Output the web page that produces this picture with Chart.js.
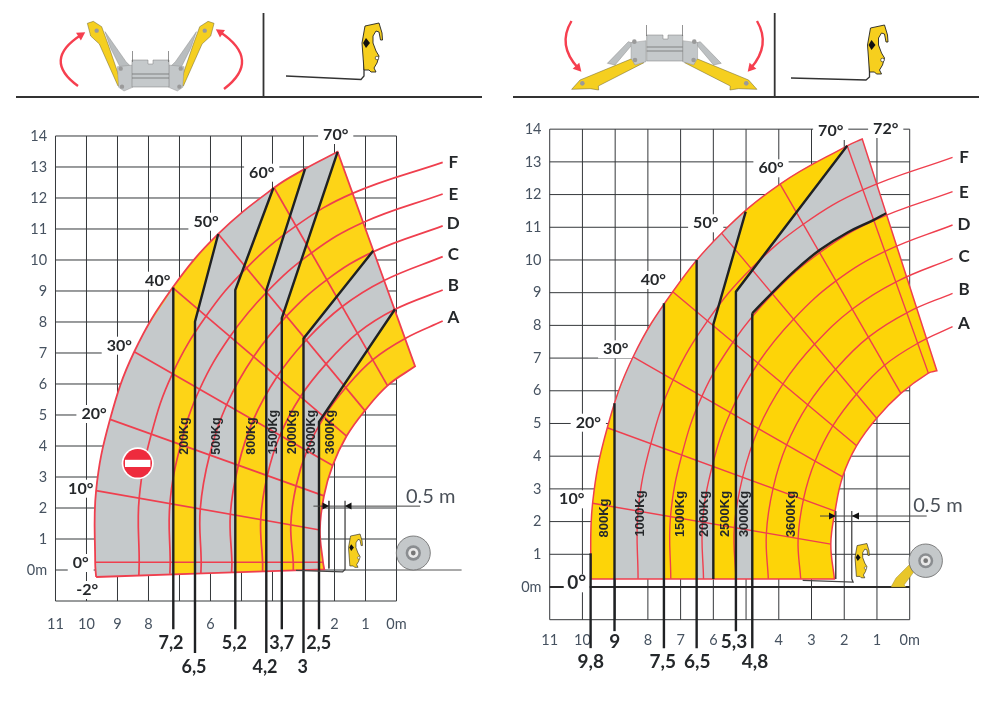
<!DOCTYPE html>
<html><head><meta charset="utf-8">
<script src="https://cdn.jsdelivr.net/npm/chart.js@4"></script>
<style>
html,body{margin:0;padding:0;background:#fff;width:997px;height:702px;overflow:hidden}
canvas{position:absolute;top:0}
#cL{left:0}#cR{left:498px}
</style></head><body>
<canvas id="cL" width="498" height="702"></canvas>
<canvas id="cR" width="499" height="702"></canvas>
<script>
// ---- axis ticks
const yTicks=[-1,0,1,2,3,4,5,6,7,8,9,10,11,12,13,14];
const gridX=[0,1,2,3,4,5,6,7,8,9,10,11];
const leftXLabels=[11,10,9,8,6,2,1,0];
const rightXLabels=[11,10,8,7,6,4,3,2,1,0];
// ---- load arcs A..F, read on the 0..70 degree rays
const arcA=[[3.33,.25],[3.41,1.46],[3.24,2.71],[2.89,3.85],[2.34,4.94],[1.64,5.88],[.77,6.78],[-.28,7.47]];
const arcB=[[4.32,.25],[4.38,1.63],[4.17,3.04],[3.76,4.34],[3.10,5.59],[2.27,6.65],[1.26,7.64],[.06,8.40]];
const arcC=[[5.31,.25],[5.36,1.80],[5.10,3.38],[4.62,4.84],[3.85,6.24],[2.91,7.42],[1.75,8.50],[.40,9.34]];
const arcD=[[6.30,.25],[6.33,1.97],[6.03,3.71],[5.48,5.33],[4.61,6.88],[3.55,8.19],[2.25,9.36],[.74,10.27]];
const arcE=[[7.30,.25],[7.31,2.14],[6.96,4.05],[6.35,5.83],[5.37,7.53],[4.19,8.96],[2.74,10.23],[1.08,11.21]];
const arcF=[[8.30,.25],[8.30,2.32],[7.91,4.38],[7.23,6.33],[6.14,8.19],[4.84,9.74],[3.24,11.10],[1.42,12.15]];
// left chart: arc start on the lower edge, arc end at the letter
const leftArcStart=[[3.33,0],[4.32,-.05],[5.32,-.065],[6.31,-.097],[7.31,-.12],[8.31,-.17]];
const leftArcEnd=[[-1.49,8.03],[-1.49,9.03],[-1.49,10.11],[-1.49,11.10],[-1.49,12.13],[-1.49,13.15]];
const rightArcEnd=[[-1.31,7.96],[-1.31,8.98],[-1.31,10.05],[-1.31,11.07],[-1.31,12.09],[-1.31,13.14]];
// ---- envelopes ([x,y,1] is a sharp corner)
const leftEnvelope=[[9.69,-.226,1],[9.72,.25],[9.69,2.56],[9.24,4.86],[8.46,7.04],[7.22,9.11],[5.75,10.84],[3.95,12.33],[2.95,12.94],[1.90,13.49,1],[-.60,6.57,1],[.29,5.95],[1.02,5.14],[1.61,4.32],[2.06,3.37],[2.34,2.39],[2.47,1.29],[2.37,.25],[2.33,.02,1],[9.69,-.226]];
const rightEnvelope=[[9.75,.245,1],[9.69,2.56],[9.24,4.87],[8.45,7.04],[7.24,9.03],[5.75,10.82],[3.96,12.32],[1.91,13.49],[1.45,13.70,1],[-.83,6.61,1],[-.57,6.54],[.27,5.92],[1.01,5.16],[1.62,4.32],[2.05,3.37],[2.28,2.32],[2.41,1.31],[2.30,.245,1],[9.75,.245]];
// ---- no-go (grey) regions
const leftGrey=[
 [[7.2,-.143,1],[9.69,-.226,1],[9.72,.25],[9.69,2.56],[9.24,4.86],[8.46,7.04],[7.2,9.11,1],[7.2,-.143]],
 [[6.5,-.12,1],[6.5,8.01,1],[5.75,10.84,1],[4.89,11.61],[3.97,12.33,1],[5.2,9.03,1],[5.2,-.076,1],[6.5,-.12]],
 [[4.2,-.043,1],[4.2,9.03,1],[2.95,12.94,1],[2.43,13.22],[1.90,13.49,1],[3.7,8.12,1],[3.7,-.026,1],[4.2,-.043]],
 [[3,-.002,1],[3,7.47,1],[.75,10.30,1],[.05,8.41,1],[2.5,4.78,1],[2.5,.014,1],[3,-.002]]
];
const rightGrey=[
 [[9.02,.245,1],[9.02,5.62,1],[8.45,7.04],[7.51,8.68,1],[7.51,.245,1],[9.02,.245]],
 [[6.51,.245,1],[6.51,10.0,1],[5.75,10.82],[5.01,11.48,1],[6.0,8.03,1],[6,.245,1],[6.51,.245]],
 [[5.31,.245,1],[5.31,9.03,1],[1.91,13.49,1],[1.45,13.70,1],[.72,11.43,1],[1.11,11.22],[1.9,10.84],[2.74,10.31],[3.5,9.68],[4.22,8.98],[4.81,8.37,1],[4.81,.245,1],[5.31,.245]]
];
// ---- angle rays
const leftRays=[[[9.72,.25],[2.37,.25]],[[9.69,2.56],[2.47,1.29]],[[9.24,4.86],[2.34,2.39]],[[8.46,7.04],[2.06,3.37]],[[7.22,9.11],[1.61,4.32]],[[5.75,10.84],[1.02,5.14]],[[3.95,12.33],[.29,5.95]]];
const rightRays=[[[9.69,2.56],[2.41,1.31]],[[9.24,4.87],[2.28,2.32]],[[8.45,7.04],[2.05,3.37]],[[7.24,9.03],[1.62,4.32]],[[5.75,10.82],[1.01,5.16]],[[3.96,12.32],[.27,5.92]],[[1.91,13.49],[-.57,6.54]]];
// ---- capacity limit lines
const leftLimits=[
 [[7.2,-1.91],[7.2,9.11]],
 [[6.5,-2.68],[6.5,8.01],[5.75,10.84]],
 [[5.2,-1.91],[5.2,9.03],[3.97,12.33]],
 [[4.2,-2.68],[4.2,9.03],[2.95,12.94]],
 [[3.7,-1.91],[3.7,8.12],[1.90,13.49]],
 [[3,-2.68],[3,7.47],[.75,10.30]],
 [[2.5,-1.91],[2.5,4.78],[.05,8.41]]
];
const rightLimits=[
 [[9.75,-1.87],[9.75,1.03]],
 [[9.02,-1.35],[9.02,5.62]],
 [[7.51,-1.87],[7.51,8.68]],
 [[6.51,-1.87],[6.51,10.0]],
 [[6,.245],[6,8.03],[5.01,11.48]],
 [[5.31,-1.35],[5.31,9.03],[1.91,13.49]],
 [[4.81,-1.87],[4.81,8.37]]
];
const rightLimitArc=[[4.81,8.37],[4.22,8.98],[3.5,9.68],[2.74,10.31],[1.9,10.84],[1.11,11.22],[.72,11.43]];
// ---- dimension lines and fork
const leftDim=[[[2.68,2.06],[-.76,2.06]],[[2.18,2.23],[2.18,.05]]];
const leftFork=[[3.24,-.01],[1.74,-.06],[1.66,.02],[1.66,2.23]];
const rightDim=[[[2.74,2.17],[-.52,2.17]],[[2.26,2.32],[2.26,.245]]];
const rightFork=[[3.27,.20],[1.73,.15],[1.77,.25],[1.77,2.32]];
const leftGround=[[0,0],[-2.1,0]];
const rightGround=[[11,0],[0,0]];
// ---- texts
const leftWeights=['200Kg','500Kg','800Kg','1500Kg','2000Kg','3000Kg','3600Kg'];
const rightWeights=['800Kg','1000Kg','1500Kg','2000Kg','2500Kg','3000Kg','3600Kg'];
const leftWeightPos=[[185,436],[216.7,436],[251.7,436],[273.3,432],[292.3,432],[311.7,432],[330.7,432]];
const rightWeightPos=[[604.3,518],[640,513.5],[680,514],[704,514],[725,514],[744,514],[791.7,514]];
const leftAngles=['70°','60°','50°','40°','30°','20°','10°','0°','-2°'];
const leftAnglePos=[[335.7,135],[261.7,172.7],[206,221.7],[157.7,280.7],[119.3,345.7],[94,414],[80.7,488.7],[80.7,563],[87.3,590]];
const rightAngles=['70°','72°','60°','50°','40°','30°','20°','10°','0°'];
const rightAnglePos=[[830.7,131],[885.7,129],[771,168.3],[705.7,223.3],[653.3,280],[615.7,349.3],[588.3,422.7],[571.7,499.3],[576.7,583.3]];
const letters=['A','B','C','D','E','F'];
const leftLetterPos=[[453.3,317.3],[453.3,285.7],[453.3,255],[453.3,224],[453.3,194.7],[453.3,162.3]];
const rightLetterPos=[[964,323.3],[964,290],[964,256.7],[964,225],[964,192.7],[964,157.7]];
const leftReach=['7,2','6,5','5,2','4,2','3,7','3','2,5'];
const leftReachPos=[[171,643],[194,667.3],[234.3,643.3],[265,667.3],[281.7,643.3],[302.7,667.3],[318.7,643.3]];
const rightReach=['9,8','9','7,5','6,5','5,3','4,8'];
const rightReachPos=[[590.7,661.7],[614.7,641.7],[662.7,661.7],[697.3,661.7],[734,642.3],[755,661.7]];

const RED='#ef3f4e',BLK='#1f2123',GRID='#35383b',GREY='#c5c9cb',YEL='#fdd417',TXT='#465260',DARK='#25282b';
const FONT='Lato, "Open Sans", sans-serif';

const pts=a=>a.flatMap(p=>p[2]?[{x:p[0],y:p[1]},{x:p[0],y:p[1]}]:[{x:p[0],y:p[1]}]);
const stroke=(a,color,w,tension=0)=>({data:pts(a),showLine:true,borderColor:color,borderWidth:w,tension,pointRadius:0,fill:false});
const shape=(a,bg,border,w)=>({data:pts(a),showLine:true,backgroundColor:bg,borderColor:border||'rgba(0,0,0,0)',borderWidth:w||0,tension:.4,pointRadius:0,fill:'shape'});

function gridSets(){
  const s=[];
  gridX.forEach(v=>s.push(stroke([[v,-1],[v,14]],GRID,1)));
  yTicks.forEach(v=>s.push(stroke([[11,v],[0,v]],GRID,1)));
  return s;
}
function build(cfg){
  const d=[...gridSets()];
  const base=stroke(cfg.ground,cfg.groundColor,cfg.groundWidth);
  base.gapsAfter=true;
  d.push(base);
  d.push(shape(cfg.env,cfg.yellow));
  cfg.grey.forEach(g=>d.push(shape(g,GREY)));
  cfg.rays.forEach(r=>d.push(stroke(r,RED,cfg.rw)));
  [arcA,arcB,arcC,arcD,arcE,arcF].forEach((arc,i)=>{
    const full=(cfg.starts?[cfg.starts[i]]:[]).concat(arc,[cfg.ends[i]]);
    d.push(stroke(full,RED,cfg.rw,.4));
  });
  d.push(Object.assign(shape(cfg.env,'rgba(0,0,0,0)',RED,cfg.rw+.1),{fill:false}));
  cfg.limits.forEach(l=>d.push(stroke(l,BLK,2.4)));
  if(cfg.limitArc)d.push(stroke(cfg.limitArc,BLK,2.4,.4));
  cfg.dim.forEach(l=>d.push(stroke(l,'#444',1)));
  d.push(stroke(cfg.fork,'#444',1.3));
  return d.reverse();
}
const noPad=s=>{s.paddingTop=0;s.paddingBottom=0;s.paddingLeft=0;s.paddingRight=0;};
function axes(cfg){
  return {
    x:{type:'linear',reverse:true,min:cfg.xMin,max:cfg.xMax,position:{y:-1},
       grid:{display:false},border:{display:false},afterFit:noPad,
       afterBuildTicks:s=>{s.ticks=cfg.xLabels.map(v=>({value:v}))},
       ticks:{autoSkip:false,maxRotation:0,minRotation:0,padding:cfg.xPad,color:TXT,font:{family:'Lato',size:14.5},callback:v=>v===0?'0m':String(v)}},
    y:{type:'linear',min:cfg.yMin,max:cfg.yMax,position:{x:cfg.yLabelAt},
       grid:{display:false},border:{display:false},afterFit:noPad,
       afterBuildTicks:s=>{s.ticks=yTicks.filter(v=>v>=0).map(v=>({value:v}))},
       ticks:{autoSkip:false,padding:0,color:TXT,font:{family:'Lato',size:14.5},callback:v=>v===0?'0m':String(v)}}
  };
}
function text(ctx,t,x,y,font,color,rot){
  ctx.save();ctx.font=font;ctx.textAlign='center';ctx.textBaseline='middle';
  ctx.fillStyle=color;ctx.translate(x,y);if(rot)ctx.rotate(-Math.PI/2);ctx.fillText(t,0,0);ctx.restore();
}
function gaps(ctx,labels,pos,font){
  ctx.save();ctx.font=font;ctx.fillStyle='#fff';
  labels.forEach((t,i)=>{const w=ctx.measureText(t).width+10;ctx.fillRect(pos[i][0]-w/2,pos[i][1]-9,w,18);});
  ctx.restore();
}
function tri(ctx,a,b,c,col){ctx.fillStyle=col;ctx.beginPath();ctx.moveTo(a[0],a[1]);ctx.lineTo(b[0],b[1]);ctx.lineTo(c[0],c[1]);ctx.closePath();ctx.fill();}
function path(ctx,p,fill,st,w){ctx.beginPath();p.forEach((q,i)=>i?ctx.lineTo(q[0],q[1]):ctx.moveTo(q[0],q[1]));ctx.closePath();if(fill){ctx.fillStyle=fill;ctx.fill();}if(st){ctx.strokeStyle=st;ctx.lineWidth=w||.6;ctx.stroke();}}
function attachment(ctx,x,y,s){
  ctx.save();ctx.translate(x,y);ctx.scale(s,s);
  path(ctx,[[3,3],[17,0],[20,10],[20.5,17],[18.5,17],[17,9],[14,8],[11,13],[11,20],[14,28],[17,33],[15,40],[12,45],[14,49],[9,49],[7,47],[2,47],[0,20]],'#f6cf1e','#222',.9);
  path(ctx,[[4,15],[8,20],[4,25],[1,20]],'#111');
  ctx.beginPath();ctx.arc(15,35,1.8,0,7);ctx.fillStyle='#fff';ctx.fill();ctx.strokeStyle='#222';ctx.lineWidth=.6;ctx.stroke();
  ctx.restore();
}
function wheel(ctx,x,y,r){
  ctx.beginPath();ctx.arc(x,y,r,0,7);ctx.fillStyle='#c4c8ca';ctx.fill();ctx.strokeStyle='#666';ctx.lineWidth=.8;ctx.stroke();
  ctx.beginPath();ctx.arc(x,y,r*.45,0,7);ctx.fillStyle='#8a8d90';ctx.fill();
  ctx.beginPath();ctx.arc(x,y,r*.3,0,7);ctx.fillStyle='#e8e8e8';ctx.fill();
  ctx.beginPath();ctx.arc(x,y,r*.14,0,7);ctx.fillStyle='#777';ctx.fill();
}
function curvedArrow(ctx,a,c,b,hw){
  ctx.strokeStyle='#f63f4f';ctx.lineWidth=2.4;ctx.beginPath();ctx.moveTo(a[0],a[1]);ctx.quadraticCurveTo(c[0],c[1],b[0],b[1]);ctx.stroke();
  const dx=b[0]-c[0],dy=b[1]-c[1],l=Math.hypot(dx,dy),ux=dx/l,uy=dy/l;
  tri(ctx,[b[0]+ux*5,b[1]+uy*5],[b[0]-ux*3-uy*hw,b[1]-uy*3+ux*hw],[b[0]-ux*3+uy*hw,b[1]-uy*3-ux*hw],'#f63f4f');
}
function headerLeft(ctx){
  ctx.strokeStyle='#333';ctx.lineWidth=1.8;
  ctx.beginPath();ctx.moveTo(16,97);ctx.lineTo(482,97);ctx.moveTo(263.5,13);ctx.lineTo(263.5,97);ctx.stroke();
  const m=150.7;
  [1,-1].forEach(sd=>{
    const T=p=>p.map(q=>[m+sd*(q[0]/3-m),q[1]/3]);
    path(ctx,T([[315,95],[378,185],[398,205],[362,205],[332,145]]),'#b9bdbf','#777',.4);
    path(ctx,T([[262,70],[280,64],[305,80],[325,135],[366,255],[354,258],[298,132],[272,108]]),'#f5cf20','#6b6230',.5);
    path(ctx,T([[352,200],[398,195],[398,262],[372,273],[356,262]]),'#c3c7c9','#888',.4);
    ctx.fillStyle='#9a9a9a';[[290,92],[362,206],[366,260]].forEach(q=>{const t=T([q])[0];ctx.beginPath();ctx.arc(t[0],t[1],2.2,0,7);ctx.fill();});
  });
  path(ctx,[[132,60],[148,60],[148,64],[153,64],[153,60],[169,60],[169,87],[132,87]],'#c5c9cb','#7a7a7a',.5);
  ctx.strokeStyle='#666';ctx.lineWidth=.7;ctx.beginPath();ctx.moveTo(132,74);ctx.lineTo(169,74);ctx.moveTo(132,78);ctx.lineTo(169,78);ctx.moveTo(132.5,51);ctx.lineTo(132.5,62);ctx.moveTo(168.5,51);ctx.lineTo(168.5,62);ctx.stroke();
  curvedArrow(ctx,[78,86],[42,60],[81,35],4.5);
  curvedArrow(ctx,[224,89],[262,60],[220,32],4.5);
  ctx.strokeStyle='#333';ctx.lineWidth=1.3;ctx.beginPath();ctx.moveTo(286,76);ctx.lineTo(361,79.5);ctx.lineTo(364,76);ctx.lineTo(364,60);ctx.stroke();
  attachment(ctx,362,23,1);
}
function headerRight(ctx){
  ctx.strokeStyle='#333';ctx.lineWidth=1.8;
  ctx.beginPath();ctx.moveTo(513,97);ctx.lineTo(979,97);ctx.moveTo(774.7,13);ctx.lineTo(774.7,97);ctx.stroke();
  const m=664.3;
  [1,-1].forEach(sd=>{
    const T=p=>p.map(q=>[m+sd*(500+q[0]/3-m),q[1]/3]);
    path(ctx,T([[322,190],[385,125],[400,130],[345,195]]),'#bcc0c2','#777',.4);
    path(ctx,T([[215,268],[240,240],[398,175],[432,188],[295,258],[296,270],[270,266]]),'#f5cf20','#6b6230',.5);
    path(ctx,T([[393,128],[438,122],[438,185],[405,195],[393,175]]),'#c3c7c9','#888',.4);
    ctx.fillStyle='#9a9a9a';[[247,250],[405,180],[403,125]].forEach(q=>{const t=T([q])[0];ctx.beginPath();ctx.arc(t[0],t[1],2.3,0,7);ctx.fill();});
  });
  path(ctx,[[646.7,35],[663,35],[663,39],[668,39],[668,35],[682.7,35],[682.7,61],[646.7,61]],'#c5c9cb','#7a7a7a',.5);
  ctx.strokeStyle='#666';ctx.lineWidth=.7;ctx.beginPath();ctx.moveTo(646.7,47);ctx.lineTo(682.7,47);ctx.moveTo(646.7,51);ctx.lineTo(682.7,51);ctx.moveTo(646.5,25);ctx.lineTo(646.5,36);ctx.moveTo(682.5,25);ctx.lineTo(682.5,36);ctx.stroke();
  curvedArrow(ctx,[571.5,21],[557,45],[578,68],4.5);
  curvedArrow(ctx,[757,21],[771,45],[751,68],4.5);
  ctx.strokeStyle='#333';ctx.lineWidth=1.3;ctx.beginPath();ctx.moveTo(791,78);ctx.lineTo(866,80);ctx.lineTo(869.5,77);ctx.lineTo(869.5,52);ctx.stroke();
  attachment(ctx,867.5,25,1);
}
const ANG='700 16px '+FONT;
const leftPlugin={id:'leftText',
 afterDatasetDraw(c,args){ if(c.data.datasets[args.index].gapsAfter) gaps(c.ctx,leftAngles,leftAnglePos,ANG); },
 afterDraw(c){
  const x=c.ctx;
  headerLeft(x);
  leftAngles.forEach((t,i)=>text(x,t,leftAnglePos[i][0],leftAnglePos[i][1],ANG,DARK));
  leftWeights.forEach((t,i)=>text(x,t,leftWeightPos[i][0],leftWeightPos[i][1],'700 12.5px "Liberation Sans"',DARK,true));
  letters.forEach((t,i)=>text(x,t,leftLetterPos[i][0],leftLetterPos[i][1],'700 17px '+FONT,DARK));
  leftReach.forEach((t,i)=>text(x,t,leftReachPos[i][0],leftReachPos[i][1],'700 18px '+FONT,DARK));
  text(x,'0.5 m',430.7,496.7,'400 20px '+FONT,'#4a5058');
  tri(x,[329,506],[322.5,502.5],[322.5,509.5],'#111');tri(x,[345,506],[351.5,502.5],[351.5,509.5],'#111');
  attachment(x,348.5,534,.68);
  wheel(x,413.3,553,17);
  x.beginPath();x.arc(137.7,463.3,16,0,7);x.fillStyle='#fff';x.fill();
  x.beginPath();x.arc(137.7,463.3,14.3,0,7);x.fillStyle='#ee2b3d';x.fill();
  x.fillStyle='#fff';x.fillRect(125,459.8,25.4,7.2);
}};
const rightPlugin={id:'rightText',
 afterDatasetDraw(c,args){ if(c.data.datasets[args.index].gapsAfter){const x=c.ctx;x.save();x.translate(-498,0);gaps(x,rightAngles,rightAnglePos,ANG);x.restore();} },
 afterDraw(c){
  const x=c.ctx;x.save();x.translate(-498,0);
  headerRight(x);
  rightAngles.forEach((t,i)=>text(x,t,rightAnglePos[i][0],rightAnglePos[i][1],t==='0°'?'700 19px '+FONT:ANG,DARK));
  rightWeights.forEach((t,i)=>text(x,t,rightWeightPos[i][0],rightWeightPos[i][1],'700 13px "Liberation Sans"',DARK,true));
  letters.forEach((t,i)=>text(x,t,rightLetterPos[i][0],rightLetterPos[i][1],'700 17px '+FONT,DARK));
  rightReach.forEach((t,i)=>text(x,t,rightReachPos[i][0],rightReachPos[i][1],'700 19px '+FONT,DARK));
  text(x,'0.5 m',938,506,'400 20px '+FONT,'#4a5058');
  tri(x,[835.7,516],[829,512.5],[829,519.5],'#111');tri(x,[851.7,516],[859,512.5],[859,519.5],'#111');
  attachment(x,855,543.5,.7);
  path(x,[[911,563],[916,569],[904,585],[906,587],[891,587],[896,578]],'#e8c62a','#8a7a20',.4);
  wheel(x,925.7,560.7,16.7);
  x.restore();
}};
const common={responsive:false,animation:false,devicePixelRatio:1,layout:{padding:0},
  plugins:{legend:{display:false},tooltip:{enabled:false}},interaction:{mode:null},events:[]};

new Chart(document.getElementById('cL'),{type:'scatter',
  data:{datasets:build({env:leftEnvelope,yellow:YEL,grey:leftGrey,rays:leftRays,rw:1.7,starts:leftArcStart,ends:leftArcEnd,limits:leftLimits,dim:leftDim,fork:leftFork,ground:leftGround,groundColor:'#555',groundWidth:1})},
  options:{...common,scales:axes({xMin:-3.274,xMax:12.79,yMin:-4.258,yMax:18.387,xLabels:leftXLabels,xPad:7,yLabelAt:11.27})},
  plugins:[leftPlugin]});
new Chart(document.getElementById('cR'),{type:'scatter',
  data:{datasets:build({env:rightEnvelope,yellow:'#fdd408',grey:rightGrey,rays:rightRays,rw:1.4,ends:rightArcEnd,limits:rightLimits,limitArc:rightLimitArc,dim:rightDim,fork:rightFork,ground:rightGround,groundColor:'#2a2a2a',groundWidth:2})},
  options:{...common,scales:axes({xMin:-2.668,xMax:12.58,yMin:-3.517,yMax:17.95,xLabels:rightXLabels,xPad:4,yLabelAt:11.25})},
  plugins:[rightPlugin]});
</script>
</body></html>
